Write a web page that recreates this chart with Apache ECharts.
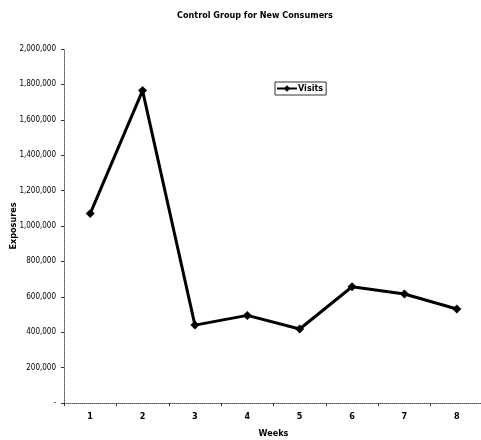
<!DOCTYPE html>
<html>
<head>
<meta charset="utf-8">
<script src="https://cdn.jsdelivr.net/npm/echarts@6/dist/echarts.min.js"></script>
<style>html,body{margin:0;padding:0;background:#fff}#c{width:481px;height:440px}</style>
</head>
<body>
<div id="c"></div>
<script>
const weeks = ['1','2','3','4','5','6','7','8'];
const visits = [1070000, 1765000, 440000, 495000, 418000, 657000, 616000, 531000];
const yMin = 0, yMax = 2000000, yStep = 200000;
const titleText = 'Control Group for New Consumers';
const xName = 'Weeks';
const yName = 'Exposures';
const seriesName = 'Visits';

const font = '"Liberation Sans Narrow", "DejaVu Sans Condensed", Arial, sans-serif';
const chart = echarts.init(document.getElementById('c'), null, {renderer: 'canvas'});
chart.setOption({
  backgroundColor: '#fff',
  animation: false,
  title: {
    text: titleText, left: 172, top: 6,
    textStyle: {fontFamily: font, fontSize: 9, fontWeight: 'bold', color: '#000'}
  },
  legend: {
    data: [seriesName], left: 275, top: 82,
    borderColor: '#333', borderWidth: 1, padding: [2, 3, 2, 1],
    itemWidth: 20, itemHeight: 8, itemGap: 2,
    textStyle: {fontFamily: font, fontSize: 9, fontWeight: 'bold', color: '#000', padding: [0,0,0,-4]}
  },
  grid: {left: 64, top: 49, width: 419, height: 354, containLabel: false, outerBoundsMode: 'none'},
  xAxis: {
    type: 'category', data: weeks, boundaryGap: true,
    name: xName, nameLocation: 'middle', nameGap: 26, nameMoveOverlap: false,
    nameTextStyle: {fontFamily: font, fontSize: 9, fontWeight: 'bold', color: '#000'},
    axisLine: {lineStyle: {color: '#555', type: 'dotted', width: 1}},
    axisTick: {show: true, length: 3, lineStyle: {color: '#333'}},
    axisLabel: {fontFamily: font, fontSize: 9, fontWeight: 'bold', color: '#000', margin: 9},
    splitLine: {show: false}
  },
  yAxis: {
    type: 'value', min: yMin, max: yMax, interval: yStep,
    name: yName, nameLocation: 'middle', nameGap: 46, nameRotate: 90, nameMoveOverlap: false,
    nameTextStyle: {fontFamily: font, fontSize: 9, fontWeight: 'bold', color: '#000'},
    axisLine: {show: true, lineStyle: {color: '#555', type: 'dotted', width: 1}},
    axisTick: {show: true, length: 3, lineStyle: {color: '#333'}},
    axisLabel: {
      fontFamily: font, fontSize: 8, color: '#000', margin: 8,
      formatter: v => v === 0 ? '-' : v.toLocaleString('en-US')
    },
    splitLine: {show: false}
  },
  series: [{
    name: seriesName, type: 'line', data: visits,
    symbol: 'diamond', symbolSize: 9,
    lineStyle: {color: '#000', width: 3},
    itemStyle: {color: '#000'}
  }]
});
</script>
</body>
</html>
